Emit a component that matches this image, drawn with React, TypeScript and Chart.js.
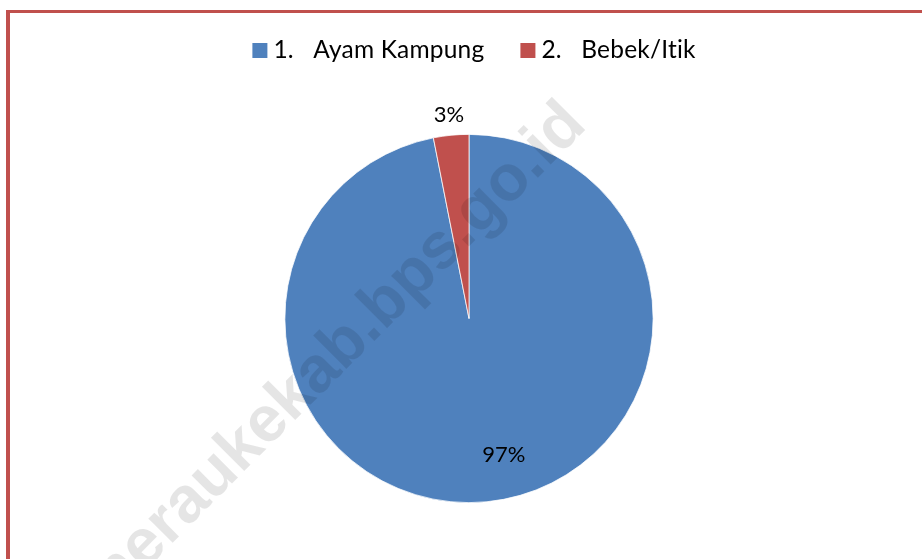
import { useEffect, useRef } from "react";
import { Chart, registerables } from "chart.js";

Chart.register(...registerables);

// ---- data ----
const categories: string[] = ["1.   Ayam Kampung", "2.   Bebek/Itik"];
const values: number[] = [96.9, 3.1];
const sliceColors: string[] = ["#4F81BD", "#C0504D"];
const watermarkText = "meraukekab.bps.go.id";

const FONT_FAMILY = "Lato, 'Open Sans', sans-serif";
const LABEL_SIZE = 22;
const LEGEND_SIZE = 24.5;

const framePlugin = {
  id: "frame",
  beforeDraw(chart: any) {
    const ctx = chart.ctx;
    ctx.save();
    ctx.fillStyle = "#ffffff";
    ctx.fillRect(0, 0, chart.width, chart.height);
    ctx.fillStyle = "#C0504D";
    ctx.fillRect(6, 10, 4, chart.height - 10);
    ctx.fillRect(6, 10, chart.width - 6, 3);
    ctx.restore();
  },
};

function noLigatures(ctx: any) {
  try {
    ctx.textRendering = "optimizeSpeed";
    ctx.letterSpacing = "0.2px";
  } catch (e) {}
}

const legendPlugin = {
  id: "customLegend",
  afterDraw(chart: any) {
    const ctx = chart.ctx;
    const labels: string[] = chart.data.labels;
    const colors: string[] = chart.data.datasets[0].backgroundColor;
    ctx.save();
    ctx.font = `${LEGEND_SIZE}px ${FONT_FAMILY}`;
    noLigatures(ctx);
    const box = 15;
    const gapBoxText = 6;
    const gapItems = 36;
    const widths = labels.map((l) => ctx.measureText(l).width);
    const total =
      widths.reduce((a, w) => a + box + gapBoxText + w, 0) + gapItems * (labels.length - 1);
    const centerX = 474;
    const baseline = 58;
    let x = centerX - total / 2;
    labels.forEach((l, i) => {
      ctx.fillStyle = colors[i];
      ctx.fillRect(x, baseline - box, box, box);
      ctx.fillStyle = "#000000";
      ctx.textAlign = "left";
      ctx.textBaseline = "alphabetic";
      ctx.fillText(l, x + box + gapBoxText, baseline);
      x += box + gapBoxText + widths[i] + gapItems;
    });
    ctx.restore();
  },
};

const labelPlugin = {
  id: "pctLabels",
  afterDatasetsDraw(chart: any) {
    const ctx = chart.ctx;
    const meta = chart.getDatasetMeta(0);
    const data: number[] = chart.data.datasets[0].data;
    const total = data.reduce((a, b) => a + b, 0);
    ctx.save();
    ctx.font = `${LABEL_SIZE}px ${FONT_FAMILY}`;
    ctx.fillStyle = "#000000";
    ctx.textAlign = "center";
    ctx.textBaseline = "alphabetic";
    const cap = LABEL_SIZE * 0.7165;
    meta.data.forEach((arc: any, i: number) => {
      const p = arc.getProps(["x", "y", "startAngle", "endAngle", "outerRadius"], true);
      const share = data[i] / total;
      let a = (p.startAngle + p.endAngle) / 2;
      let d: number;
      if (share < 0.1) {
        d = p.outerRadius + 21;
      } else {
        d = p.outerRadius * 0.761;
        a += (-8.8 * Math.PI) / 180;
      }
      const cx = p.x + Math.cos(a) * d;
      const cy = p.y + Math.sin(a) * d;
      ctx.fillText(Math.round(share * 100) + "%", cx, cy + cap / 2);
    });
    ctx.restore();
  },
};

const watermarkPlugin = {
  id: "watermark",
  afterDraw(chart: any) {
    const ctx = chart.ctx;
    ctx.save();
    ctx.translate(333, 357);
    ctx.rotate((-45 * Math.PI) / 180);
    ctx.font = "bold 65px 'Liberation Sans', Arial, sans-serif";
    ctx.fillStyle = "rgba(0,0,0,0.1)";
    ctx.textAlign = "center";
    ctx.textBaseline = "middle";
    ctx.fillText(watermarkText, 0, 0);
    ctx.restore();
  },
};

export default function App() {
  const ref = useRef<HTMLCanvasElement>(null);
  useEffect(() => {
    const canvas = ref.current!;
    const chart = new Chart(canvas, {
      type: "pie",
      data: {
        labels: categories,
        datasets: [
          {
            data: values,
            backgroundColor: sliceColors,
            borderColor: "#ffffff",
            borderWidth: 0.75,
          },
        ],
      },
      options: {
        responsive: false,
        animation: false,
        layout: { padding: { left: 284, right: 268, top: 134, bottom: 56 } },
        plugins: {
          legend: { display: false },
          tooltip: { enabled: false },
        },
      },
      plugins: [framePlugin, labelPlugin, legendPlugin, watermarkPlugin],
    } as any);
    return () => chart.destroy();
  }, []);
  return (
    <div
      style={{
        position: "fixed",
        left: 0,
        top: 0,
        width: 922,
        height: 559,
        background: "#ffffff",
      }}
    >
      <canvas ref={ref} width={922} height={559} style={{ display: "block" }} />
    </div>
  );
}
